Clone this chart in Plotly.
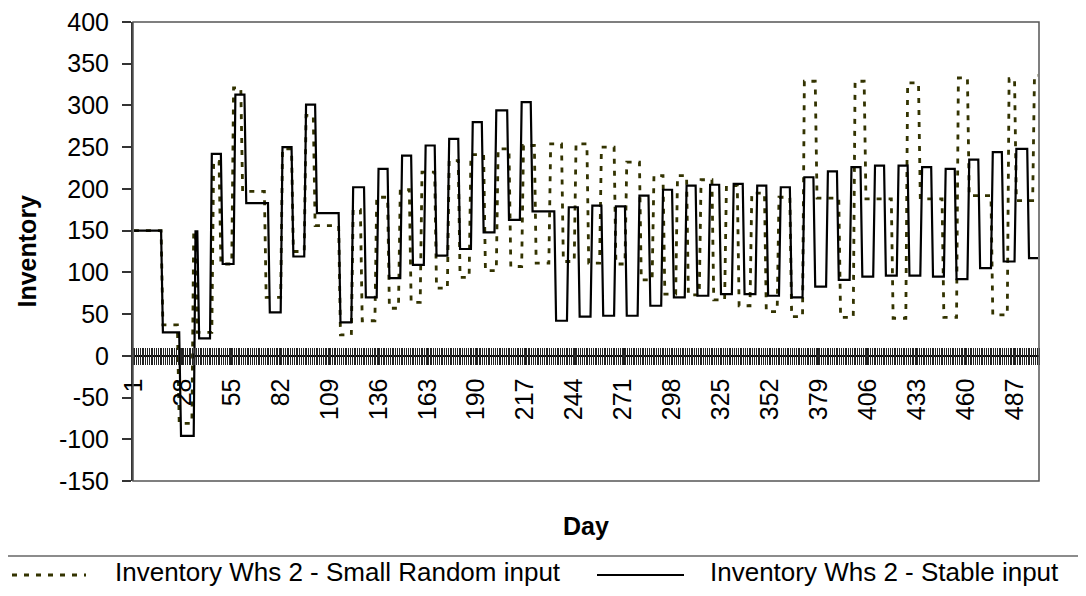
import numpy as np
import plotly.graph_objects as go

n_days = 500

# daily inventory as flat runs: first day of each run and the level held
random_start = [1, 17, 26, 34, 36, 45, 49, 56, 61, 74, 83, 89, 96, 101, 115, 122, 127, 135, 142, 148,
                154, 160, 168, 175, 181, 187, 195, 202, 209, 216, 223, 231, 238, 245, 252, 259, 267, 273,
                281, 288, 294, 301, 307, 314, 321, 328, 335, 342, 350, 357, 364, 371, 378, 391, 399, 405,
                420, 428, 435, 448, 456, 462, 475, 484, 488, 498]
random_level = [150, 37, -81, 149, 28, 233, 110, 321, 197, 70, 248, 125, 288, 156, 25, 175, 42, 190, 57, 199,
                64, 220, 81, 234, 94, 241, 102, 248, 107, 252, 111, 254, 113, 254, 111, 250, 110, 232,
                91, 216, 74, 216, 73, 211, 67, 204, 60, 195, 53, 190, 47, 329, 189, 46, 329, 188,
                45, 327, 188, 46, 333, 192, 49, 332, 186, 336]

stable_start = [1, 17, 27, 35, 37, 44, 50, 57, 63, 76, 83, 89, 96, 102, 115, 122, 129, 136, 142, 149,
                155, 162, 168, 175, 181, 188, 194, 201, 208, 215, 221, 234, 241, 247, 254, 260, 267, 273,
                280, 286, 293, 299, 306, 312, 319, 325, 332, 338, 345, 351, 358, 364, 371, 377, 384, 390,
                397, 403, 410, 416, 423, 429, 436, 442, 449, 455, 462, 468, 475, 481, 488, 495]
stable_level = [150, 28, -96, 149, 21, 242, 110, 313, 183, 52, 250, 119, 301, 171, 40, 202, 70, 224, 93, 240,
                109, 252, 120, 260, 128, 280, 148, 294, 163, 304, 173, 42, 178, 47, 180, 48, 179, 48,
                192, 60, 199, 70, 204, 72, 205, 74, 206, 74, 204, 72, 202, 70, 214, 83, 221, 91,
                226, 95, 228, 96, 228, 96, 226, 95, 224, 92, 235, 105, 244, 113, 248, 117]

y_ticks = [-150, -100, -50, 0, 50, 100, 150, 200, 250, 300, 350, 400]

names = ["Inventory Whs 2 - Small Random input", "Inventory Whs 2 - Stable input"]


def expand(starts, levels):
    runs = np.diff(starts + [n_days + 1])
    return np.repeat(levels, runs)


days = np.arange(1, n_days + 1)
random_inv = expand(random_start, random_level)
stable_inv = expand(stable_start, stable_level)

FONT = "Liberation Sans, Arial, sans-serif"
OFF = 8                      # page body margin of the html page
W, H = 1086 - 2 * OFF, 596 - 2 * OFF
L, R, T, B = 133, 1039, 22, 481   # plot area in screen pixels


def px_x(p):
    return (p - L) / (R - L)


def px_y(p):
    return (B - p) / (B - T)


fig = go.Figure()
fig.add_trace(go.Scatter(x=days, y=random_inv, mode="lines", name=names[0],
                         line=dict(color="#333300", width=2.8, dash="5px,7px")))
fig.add_trace(go.Scatter(x=days, y=stable_inv, mode="lines", name=names[1],
                         line=dict(color="black", width=2.2)))

fig.update_layout(
    width=W, height=H,
    margin=dict(l=L - OFF, r=W + OFF - R, t=T - OFF, b=H + OFF - B, autoexpand=False),
    paper_bgcolor="white", plot_bgcolor="white",
    showlegend=False,
    font=dict(family=FONT, size=25, color="black"),
    xaxis=dict(
        range=[0.5, n_days + 0.5], anchor="free", position=(10 + 150) / 550,
        showline=False, showgrid=False, zeroline=False,
        tick0=1, dtick=27, ticks="outside", ticklen=17, tickwidth=1, tickcolor="#222222",
        tickangle=-90, tickfont=dict(size=25), ticklabelstandoff=3, ticklabeloverflow="allow",
        minor=dict(dtick=1, tick0=0.5, ticks="outside", ticklen=17, tickwidth=1, tickcolor="#222222"),
    ),
    yaxis=dict(
        range=[-150, 400], tickvals=y_ticks, ticktext=[str(v) for v in y_ticks], showgrid=False,
        showline=True, linecolor="#333333", linewidth=2,
        ticks="outside", ticklen=9, tickwidth=1.5, tickcolor="#333333",
        zeroline=True, zerolinecolor="black", zerolinewidth=1.5,
        tickfont=dict(size=25), ticklabelstandoff=8, ticklabeloverflow="allow",
    ),
    yaxis2=dict(
        range=[-150, 400], tickvals=y_ticks, overlaying="y", side="left", showgrid=False,
        showline=False, zeroline=False, showticklabels=False,
        ticks="inside", ticklen=9, tickwidth=1.5, tickcolor="#333333",
    ),
)

# plot area frame
fig.add_shape(type="rect", xref="paper", yref="paper", x0=0, x1=1, y0=0, y1=1,
              line=dict(color="#555555", width=1.5), layer="above")

# axis titles
fig.add_annotation(text="<b>Inventory</b>", xref="paper", yref="paper",
                   x=px_x(26), y=0.5, textangle=-90, showarrow=False,
                   xanchor="center", yanchor="middle", font=dict(size=25))
fig.add_annotation(text="<b>Day</b>", xref="paper", yref="paper",
                   x=0.5, y=px_y(526), showarrow=False,
                   xanchor="center", yanchor="middle", font=dict(size=25))

# legend box drawn by hand, Excel style
fig.add_shape(type="line", xref="paper", yref="paper", x0=px_x(-5), x1=px_x(1095),
              y0=px_y(556), y1=px_y(556), line=dict(color="#666666", width=1.5))
fig.add_shape(type="line", xref="paper", yref="paper", x0=px_x(0), x1=px_x(86),
              y0=px_y(575), y1=px_y(575), line=dict(color="#333300", width=2.8, dash="5px,7px"))
fig.add_shape(type="line", xref="paper", yref="paper", x0=px_x(597), x1=px_x(684),
              y0=px_y(575), y1=px_y(575), line=dict(color="black", width=2.2))
fig.add_annotation(text=names[0], xref="paper", yref="paper", x=px_x(338), y=px_y(572),
                   showarrow=False, xanchor="center", yanchor="middle", font=dict(size=26))
fig.add_annotation(text=names[1], xref="paper", yref="paper", x=px_x(884), y=px_y(572),
                   showarrow=False, xanchor="center", yanchor="middle", font=dict(size=26))

fig.write_html("out.html")
